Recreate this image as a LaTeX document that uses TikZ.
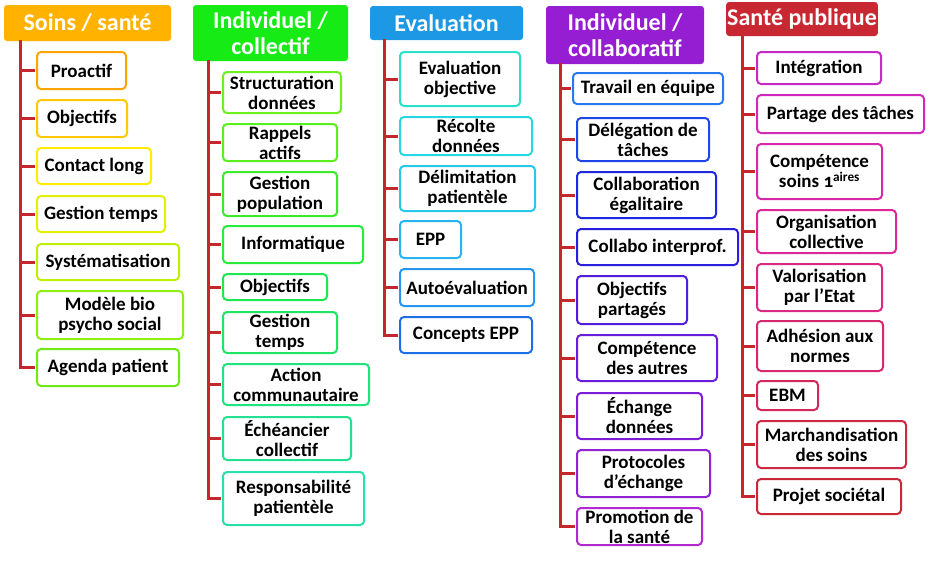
\documentclass[tikz,border=0pt]{standalone}
\usepackage{fontspec}
\setmainfont{Carlito}
\usepackage{tikz}
\usetikzlibrary{calc}

\definecolor{trunkred}{RGB}{200,38,45}
\definecolor{hsoins}{RGB}{255,178,0}
\definecolor{hindiv}{RGB}{22,235,22}
\definecolor{heval}{RGB}{28,152,228}
\definecolor{hcollab}{RGB}{150,30,210}
\definecolor{hpub}{RGB}{200,40,50}
\definecolor{cso1}{RGB}{255,165,0}
\definecolor{cso2}{RGB}{255,200,0}
\definecolor{cso3}{RGB}{255,235,0}
\definecolor{cso4}{RGB}{225,240,0}
\definecolor{cso5}{RGB}{190,240,0}
\definecolor{cso6}{RGB}{140,240,20}
\definecolor{cso7}{RGB}{110,235,20}
\definecolor{cic1}{RGB}{110,240,30}
\definecolor{cic2}{RGB}{90,240,30}
\definecolor{cic3}{RGB}{60,235,40}
\definecolor{cic4}{RGB}{40,235,60}
\definecolor{cic5}{RGB}{30,232,80}
\definecolor{cic6}{RGB}{30,230,100}
\definecolor{cic7}{RGB}{30,228,125}
\definecolor{cic8}{RGB}{35,225,145}
\definecolor{cic9}{RGB}{40,225,170}
\definecolor{cev1}{RGB}{40,225,200}
\definecolor{cev2}{RGB}{40,215,225}
\definecolor{cev3}{RGB}{40,200,235}
\definecolor{cev4}{RGB}{40,180,240}
\definecolor{cev5}{RGB}{40,150,240}
\definecolor{cev6}{RGB}{30,110,230}
\definecolor{cco1}{RGB}{40,120,240}
\definecolor{cco2}{RGB}{30,70,235}
\definecolor{cco3}{RGB}{30,40,225}
\definecolor{cco4}{RGB}{40,30,220}
\definecolor{cco5}{RGB}{80,30,220}
\definecolor{cco6}{RGB}{105,30,220}
\definecolor{cco7}{RGB}{125,30,215}
\definecolor{cco8}{RGB}{145,35,210}
\definecolor{cco9}{RGB}{180,40,210}
\definecolor{csp1}{RGB}{200,40,200}
\definecolor{csp2}{RGB}{210,40,190}
\definecolor{csp3}{RGB}{215,40,170}
\definecolor{csp4}{RGB}{220,40,150}
\definecolor{csp5}{RGB}{220,40,130}
\definecolor{csp6}{RGB}{215,40,110}
\definecolor{csp7}{RGB}{210,40,90}
\definecolor{csp8}{RGB}{205,40,70}
\definecolor{csp9}{RGB}{200,40,55}

\begin{document}
\begin{tikzpicture}[x=1pt, y=-1pt,
  every node/.style={font=\fontsize{19}{20}\selectfont\bfseries, align=center, inner sep=1pt},
  head/.style={fill=#1, text=white, rounded corners=3pt, font=\fontsize{24}{26}\selectfont\bfseries},
  leaf/.style={draw=#1, fill=white, line width=2pt, rounded corners=4pt},
  trunk/.style={trunkred, line width=3pt}]
 \useasboundingbox (0,0) rectangle (932,576);
  \node[head=hsoins, minimum width=167pt, minimum height=36pt] (h1) at (87.5,23) {Soins / santé};
  \node[head=hindiv, minimum width=155pt, minimum height=56pt] (h2) at (270.5,33) {Individuel /\\collectif};
  \node[head=heval, minimum width=153pt, minimum height=34pt] (h3) at (446.5,23) {Evaluation};
  \node[head=hcollab, minimum width=158pt, minimum height=58pt] (h4) at (625,35) {Individuel /\\collaboratif};
  \node[head=hpub, minimum width=150pt, minimum height=34pt] (h5) at (802,19) {Santé publique};
  \foreach \l/\r/\t/\b/\txt [count=\i] in {36/127/51/90/Proactif, 36/128/99/138/Objectifs,
    36/152/147/185/Contact long, 36/166/195/233/Gestion temps, 36/180/243/281/Systématisation,
    36/184/290/340/Modèle bio\\psycho social, 36/180/348/387/Agenda patient}{
  \pgfmathsetmacro{\mw}{\r-\l-2}
  \pgfmathsetmacro{\mh}{\b-\t-2}
  \node[leaf=cso\i, minimum width=\mw pt, minimum height=\mh pt] (so\i) at ({(\l+\r)/2},{(\t+\b)/2}) {\txt};
  \coordinate (so-t\i) at (20,{(\t+\b)/2});
  \draw[trunk, shorten >=1pt] (so-t\i) -- (so\i.west);
  }
  \draw[trunk, line cap=rect] (h1.south -| so-t1) -- (so-t7);
  \foreach \l/\r/\t/\b/\txt [count=\i] in {222/342/71/114/Structuration\\données, 222/338/123/162/Rappels\\actifs,
    222/338/171/217/Gestion\\population, 222/364/225/264/Informatique, 222/328/273/301/Objectifs,
    222/338/311/354/Gestion\\temps, 222/370/363/406/Action\\communautaire,
    222/352/416/461/Échéancier\\collectif, 222/365/471/526/Responsabilité\\patientèle}{
  \pgfmathsetmacro{\mw}{\r-\l-2}
  \pgfmathsetmacro{\mh}{\b-\t-2}
  \node[leaf=cic\i, minimum width=\mw pt, minimum height=\mh pt] (ic\i) at ({(\l+\r)/2},{(\t+\b)/2}) {\txt};
  \coordinate (ic-t\i) at (208,{(\t+\b)/2});
  \draw[trunk, shorten >=1pt] (ic-t\i) -- (ic\i.west);
  }
  \draw[trunk, line cap=rect] (h2.south -| ic-t1) -- (ic-t9);
  \foreach \l/\r/\t/\b/\txt [count=\i] in {399/521/51/107/Evaluation\\objective, 399/533/116/156/Récolte\\données,
    399/536/165/212/Délimitation\\patientèle, 399/462/220/259/EPP, 399/535/268/307/Autoévaluation,
    399/533/316/354/Concepts EPP}{
  \pgfmathsetmacro{\mw}{\r-\l-2}
  \pgfmathsetmacro{\mh}{\b-\t-2}
  \node[leaf=cev\i, minimum width=\mw pt, minimum height=\mh pt] (ev\i) at ({(\l+\r)/2},{(\t+\b)/2}) {\txt};
  \coordinate (ev-t\i) at (384,{(\t+\b)/2});
  \draw[trunk, shorten >=1pt] (ev-t\i) -- (ev\i.west);
  }
  \draw[trunk, line cap=rect] (h3.south -| ev-t1) -- (ev-t6);
  \foreach \l/\r/\t/\b/\txt [count=\i] in {572/724/72/105/Travail en équipe, 576/710/117/162/Délégation de\\tâches,
    576/717/171/219/Collaboration\\égalitaire, 576/739/228/266/Collabo interprof., 576/688/275/325/Objectifs\\partagés,
    576/718/334/382/Compétence\\des autres, 576/703/392/440/Échange\\données,
    576/711/449/498/Protocoles\\d’échange, 576/703/507/546/Promotion de\\la santé}{
  \pgfmathsetmacro{\mw}{\r-\l-2}
  \pgfmathsetmacro{\mh}{\b-\t-2}
  \node[leaf=cco\i, minimum width=\mw pt, minimum height=\mh pt] (co\i) at ({(\l+\r)/2},{(\t+\b)/2}) {\txt};
  \coordinate (co-t\i) at (560,{(\t+\b)/2});
  \draw[trunk, shorten >=1pt] (co-t\i) -- (co\i.west);
  }
  \draw[trunk, line cap=rect] (h4.south -| co-t1) -- (co-t9);
  \foreach \l/\r/\t/\b/\txt [count=\i] in {756/882/51/85/Intégration, 756/925/94/134/Partage des tâches,
    756/883/143/200/Compétence\\soins {\addfontfeatures{Numbers=OldStyle}1}\textsuperscript{aires},
    756/897/209/254/Organisation\\collective, 756/883/263/312/Valorisation\\par l’Etat,
    756/884/320/372/Adhésion aux\\normes, 756/819/380/411/EBM,
    756/907/420/469/Marchandisation\\des soins, 756/902/478/515/Projet sociétal}{
  \pgfmathsetmacro{\mw}{\r-\l-2}
  \pgfmathsetmacro{\mh}{\b-\t-2}
  \node[leaf=csp\i, minimum width=\mw pt, minimum height=\mh pt] (sp\i) at ({(\l+\r)/2},{(\t+\b)/2}) {\txt};
  \coordinate (sp-t\i) at (742,{(\t+\b)/2});
  \draw[trunk, shorten >=1pt] (sp-t\i) -- (sp\i.west);
  }
  \draw[trunk, line cap=rect] (h5.south -| sp-t1) -- (sp-t9);
 \end{tikzpicture}
\end{document}
